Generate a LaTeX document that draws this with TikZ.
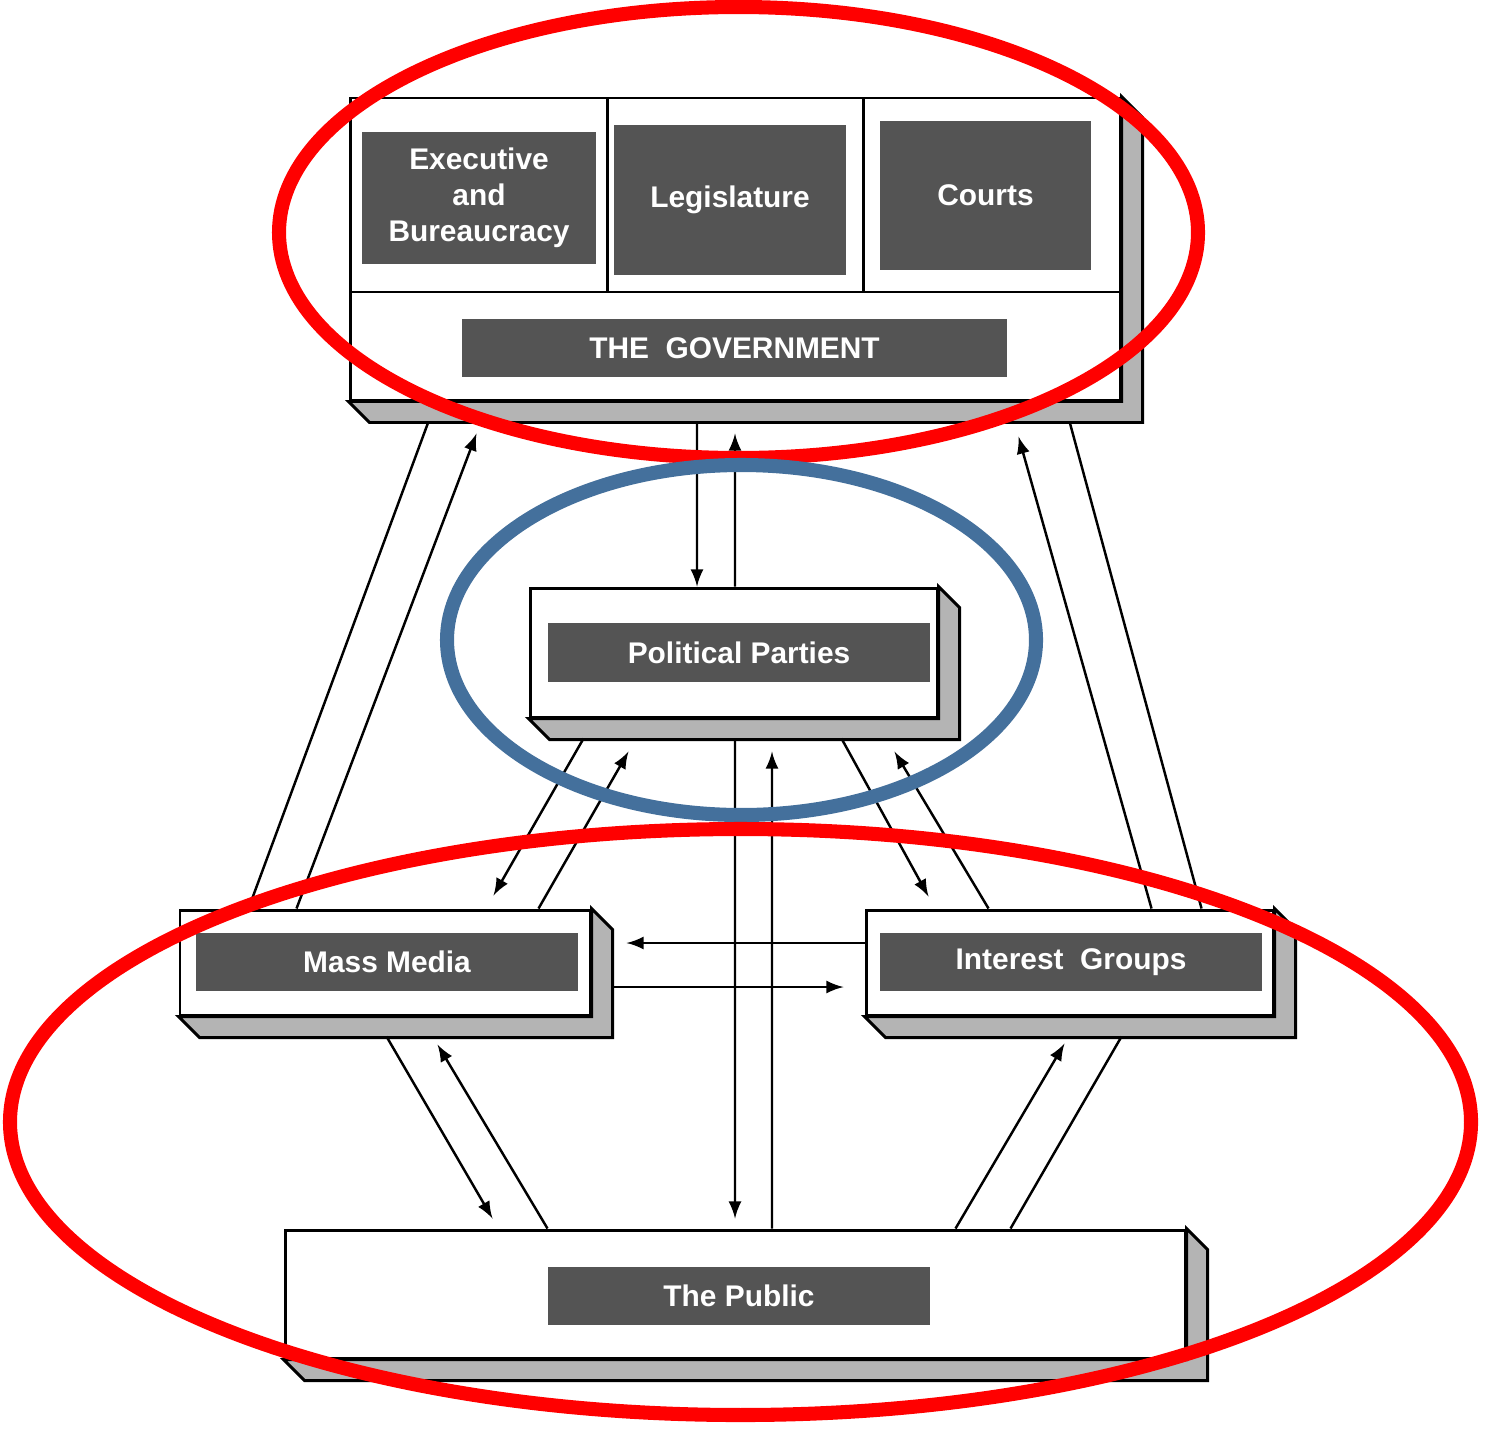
\documentclass[tikz,border=0pt]{standalone}
\usepackage{fontspec}
\setmainfont{Liberation Sans}
\usepackage{tikz}
\usetikzlibrary{arrows,calc}

\definecolor{tagfill}{HTML}{545454}
\definecolor{dropgray}{HTML}{B4B4B4}
\definecolor{ringred}{HTML}{FF0000}
\definecolor{ringblue}{HTML}{44709C}

\tikzset{
  slab/.style={draw, fill=white, line width=0.85pt, inner sep=0pt},
  tag/.style={fill=tagfill, text=white, inner sep=0pt, align=center,
    font=\bfseries\fontsize{8.5}{10.3}\selectfont},
  link/.style={line width=0.7pt},
  ring/.style={draw=#1, line width=4pt}
}

\newcommand{\drop}[1]{%
  \filldraw[fill=dropgray, line width=0.85pt] (#1.north east) -- ++(0.21,-0.21)
    |- ($(#1.south west)+(0.21,-0.21)$) -- (#1.south west) -- (#1.south east) -- cycle;}

\begin{document}
\begin{tikzpicture}[>=latex]

\useasboundingbox (0,0) rectangle (14.85,-14.32);

\node[slab, minimum width=7.70cm, minimum height=3.02cm] (gov) at (7.35,-2.49) {};
\drop{gov}
\draw[line width=0.85pt] (3.50,-2.92) -- (11.20,-2.92);
\draw[line width=0.85pt] (6.07,-0.98) -- (6.07,-2.92);
\draw[line width=0.85pt] (8.63,-0.98) -- (8.63,-2.92);

\node[tag, minimum width=2.34cm, minimum height=1.32cm] (exec) at (4.79,-1.98) {Executive\\and\\Bureaucracy};
\node[tag, minimum width=2.32cm, minimum height=1.50cm] (leg) at (7.30,-2.00) {Legislature};
\node[tag, minimum width=2.11cm, minimum height=1.49cm] (courts) at (9.855,-1.955) {Courts};
\node[tag, minimum width=5.45cm, minimum height=0.58cm] (govtag) at (7.345,-3.48) {THE\ \ GOVERNMENT};

\node[slab, minimum width=4.07cm, minimum height=1.29cm] (pp) at (7.335,-6.525) {};
\drop{pp}
\node[tag, minimum width=3.82cm, minimum height=0.59cm] (pptag) at (7.39,-6.525) {Political Parties};

\node[slab, minimum width=4.10cm, minimum height=1.05cm] (mm) at (3.85,-9.625) {};
\drop{mm}
\node[tag, minimum width=3.82cm, minimum height=0.58cm] (mmtag) at (3.87,-9.62) {Mass Media};

\node[slab, minimum width=4.07cm, minimum height=1.05cm] (ig) at (10.695,-9.625) {};
\drop{ig}
\node[tag, minimum width=3.82cm, minimum height=0.58cm] (igtag) at (10.71,-9.62) {Interest\ \ Groups};

\node[slab, minimum width=9.00cm, minimum height=1.28cm] (pub) at (7.35,-12.94) {};
\drop{pub}
\node[tag, minimum width=3.82cm, minimum height=0.58cm] (pubtag) at (7.39,-12.96) {The Public};

% government and parties
\draw[link,->] ([xshift=-0.38cm,yshift=-0.21cm]gov.south) -- ([xshift=-0.365cm]pp.north);
\draw[link,->] ([xshift=0.015cm]pp.north) -- ([yshift=-0.32cm]gov.south);

% parties and public
\draw[link,->] ([xshift=0.015cm,yshift=-0.21cm]pp.south) -- ([yshift=0.10cm]pub.north);
\draw[link,->] ([xshift=0.37cm]pub.north) -- ([xshift=0.385cm,yshift=-0.33cm]pp.south);

% media and groups
\draw[link,->] ([yshift=0.195cm]ig.west) -- ([xshift=0.35cm,yshift=0.195cm]mm.east);
\draw[link,->] ([xshift=0.21cm,yshift=-0.245cm]mm.east) -- ([xshift=-0.21cm,yshift=-0.245cm]ig.west);

% government and media
\draw[link] ([xshift=0.80cm,yshift=-0.20cm]gov.south west) -- ([xshift=0.70cm]mm.north west);
\draw[link,->] ([xshift=1.18cm]mm.north west) -- ([xshift=1.28cm,yshift=-0.32cm]gov.south west);

% government and groups
\draw[link,->] ([xshift=2.87cm]ig.north west) -- ([xshift=-1.03cm,yshift=-0.35cm]gov.south east);
\draw[link] ([xshift=-0.52cm,yshift=-0.20cm]gov.south east) -- ([xshift=3.37cm]ig.north west);

% parties and media, parties and groups
\draw[link,->] ([xshift=0.55cm,yshift=-0.20cm]pp.south west) -- ([xshift=3.15cm,yshift=0.13cm]mm.north west);
\draw[link,->] ([xshift=3.60cm]mm.north west) -- ([xshift=1.00cm,yshift=-0.33cm]pp.south west);
\draw[link,->] ([xshift=-0.97cm,yshift=-0.20cm]pp.south east) -- ([xshift=0.64cm,yshift=0.12cm]ig.north west);
\draw[link,->] ([xshift=1.24cm]ig.north west) -- ([xshift=-0.44cm,yshift=-0.33cm]pp.south east);

% media, groups and public
\draw[link,->] ([xshift=2.08cm,yshift=-0.20cm]mm.south west) -- ([xshift=2.09cm,yshift=0.10cm]pub.north west);
\draw[link,->] ([xshift=2.64cm]pub.north west) -- ([xshift=2.59cm,yshift=-0.28cm]mm.south west);
\draw[link,->] ([xshift=6.72cm]pub.north west) -- ([xshift=2.00cm,yshift=-0.27cm]ig.south west);
\draw[link] ([xshift=2.57cm,yshift=-0.20cm]ig.south west) -- ([xshift=7.27cm]pub.north west);

\draw[ring=ringred] (7.385,-2.325) ellipse [x radius=4.595, y radius=2.255];
\draw[ring=ringblue] (7.415,-6.40) ellipse [x radius=2.945, y radius=1.75];
\draw[ring=ringred] (7.405,-11.22) ellipse [x radius=7.305, y radius=2.93];

\end{tikzpicture}
\end{document}
